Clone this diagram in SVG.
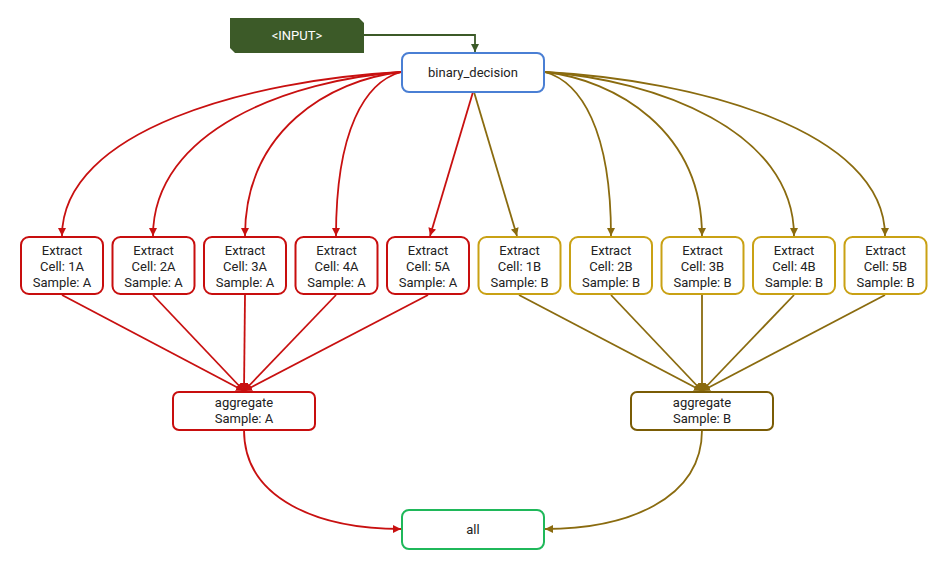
<svg xmlns="http://www.w3.org/2000/svg" width="948" height="577" viewBox="0 0 948 577">
<defs>
<style>
text{font-family:Roboto,"Liberation Sans",sans-serif;font-size:13px;fill:#222;text-anchor:middle}
.nb{fill:#fff;stroke-width:2}
.ra{stroke:#c80e0e}
.ba{stroke:#c9a114}
.e{fill:none;stroke-width:1.8}
.er{stroke:#c81010}
.eb{stroke:#8a6b0f}
</style>
<marker id="mr" viewBox="0 0 10 10" refX="10" refY="5" markerWidth="8" markerHeight="8" markerUnits="userSpaceOnUse" orient="auto"><path d="M0,0L10,5L0,10z" fill="#c81010"/></marker>
<marker id="mb" viewBox="0 0 10 10" refX="10" refY="5" markerWidth="8" markerHeight="8" markerUnits="userSpaceOnUse" orient="auto"><path d="M0,0L10,5L0,10z" fill="#8a6b0f"/></marker>
<marker id="mg" viewBox="0 0 10 10" refX="10" refY="5" markerWidth="8" markerHeight="8" markerUnits="userSpaceOnUse" orient="auto"><path d="M0,0L10,5L0,10z" fill="#3c5a28"/></marker>
</defs>
<rect width="948" height="577" fill="#fff"/>
<g id="connectors">
<path class="e" stroke="#3c5a28" d="M364,35H475V52" marker-end="url(#mg)"/>
<path class="e er" d="M401,72C250,80 62,130 62,236" marker-end="url(#mr)"/>
<path class="e er" d="M401,72C290,80 153,130 153,236" marker-end="url(#mr)"/>
<path class="e er" d="M401,72C330,80 245,130 245,236" marker-end="url(#mr)"/>
<path class="e er" d="M401,72C365,82 336,130 336,236" marker-end="url(#mr)"/>
<path class="e er" d="M473,92L430,236" marker-end="url(#mr)"/>
<path class="e eb" d="M474,92L517,236" marker-end="url(#mb)"/>
<path class="e eb" d="M545,72C581,82 611,130 611,236" marker-end="url(#mb)"/>
<path class="e eb" d="M545,72C615,80 702,130 702,236" marker-end="url(#mb)"/>
<path class="e eb" d="M545,72C655,80 794,130 794,236" marker-end="url(#mb)"/>
<path class="e eb" d="M545,72C695,80 885,130 885,236" marker-end="url(#mb)"/>
<path class="e er" d="M62,295L244,391" marker-end="url(#mr)"/>
<path class="e er" d="M153,295L244,391" marker-end="url(#mr)"/>
<path class="e er" d="M245,295L244,391" marker-end="url(#mr)"/>
<path class="e er" d="M336,295L244,391" marker-end="url(#mr)"/>
<path class="e er" d="M428,295L244,391" marker-end="url(#mr)"/>
<path class="e eb" d="M519,295L702,391" marker-end="url(#mb)"/>
<path class="e eb" d="M611,295L702,391" marker-end="url(#mb)"/>
<path class="e eb" d="M702,295L702,391" marker-end="url(#mb)"/>
<path class="e eb" d="M794,295L702,391" marker-end="url(#mb)"/>
<path class="e eb" d="M885,295L702,391" marker-end="url(#mb)"/>
<path class="e er" d="M244,430C244,500 320,529 401,529" marker-end="url(#mr)"/>
<path class="e eb" d="M702,430C702,500 626,529 545,529" marker-end="url(#mb)"/>
</g>
<g id="input"><path d="M230,18H359L364,23V53H235L230,48z" fill="#3c5a28"/><text x="297" y="40" style="fill:#fff">&lt;INPUT&gt;</text></g>
<g id="binary_decision"><rect class="nb" x="402" y="53" width="142" height="39" rx="7" stroke="#4a7fd4"/><text x="473" y="77">binary_decision</text></g>
<g id="e1A"><rect class="nb ra" x="21" y="237" width="82" height="57" rx="8"/><text x="62" y="255">Extract</text><text x="62" y="271">Cell: 1A</text><text x="62" y="287">Sample: A</text></g>
<g id="e2A"><rect class="nb ra" x="112.5" y="237" width="82" height="57" rx="8"/><text x="153.5" y="255">Extract</text><text x="153.5" y="271">Cell: 2A</text><text x="153.5" y="287">Sample: A</text></g>
<g id="e3A"><rect class="nb ra" x="204" y="237" width="82" height="57" rx="8"/><text x="245" y="255">Extract</text><text x="245" y="271">Cell: 3A</text><text x="245" y="287">Sample: A</text></g>
<g id="e4A"><rect class="nb ra" x="295.5" y="237" width="82" height="57" rx="8"/><text x="336.5" y="255">Extract</text><text x="336.5" y="271">Cell: 4A</text><text x="336.5" y="287">Sample: A</text></g>
<g id="e5A"><rect class="nb ra" x="387" y="237" width="82" height="57" rx="8"/><text x="428" y="255">Extract</text><text x="428" y="271">Cell: 5A</text><text x="428" y="287">Sample: A</text></g>
<g id="e1B"><rect class="nb ba" x="478.5" y="237" width="82" height="57" rx="8"/><text x="519.5" y="255">Extract</text><text x="519.5" y="271">Cell: 1B</text><text x="519.5" y="287">Sample: B</text></g>
<g id="e2B"><rect class="nb ba" x="570" y="237" width="82" height="57" rx="8"/><text x="611" y="255">Extract</text><text x="611" y="271">Cell: 2B</text><text x="611" y="287">Sample: B</text></g>
<g id="e3B"><rect class="nb ba" x="661.5" y="237" width="82" height="57" rx="8"/><text x="702.5" y="255">Extract</text><text x="702.5" y="271">Cell: 3B</text><text x="702.5" y="287">Sample: B</text></g>
<g id="e4B"><rect class="nb ba" x="753" y="237" width="82" height="57" rx="8"/><text x="794" y="255">Extract</text><text x="794" y="271">Cell: 4B</text><text x="794" y="287">Sample: B</text></g>
<g id="e5B"><rect class="nb ba" x="844.5" y="237" width="82" height="57" rx="8"/><text x="885.5" y="255">Extract</text><text x="885.5" y="271">Cell: 5B</text><text x="885.5" y="287">Sample: B</text></g>
<g id="aggA"><rect class="nb" x="173" y="392" width="142" height="38" rx="6" stroke="#c80e0e"/><text x="244" y="407">aggregate</text><text x="244" y="423">Sample: A</text></g>
<g id="aggB"><rect class="nb" x="631" y="392" width="142" height="38" rx="6" stroke="#7a5c05"/><text x="702" y="407">aggregate</text><text x="702" y="423">Sample: B</text></g>
<g id="all"><rect class="nb" x="402" y="510" width="142" height="39" rx="7" stroke="#1fb85a"/><text x="473" y="534">all</text></g>
</svg>
